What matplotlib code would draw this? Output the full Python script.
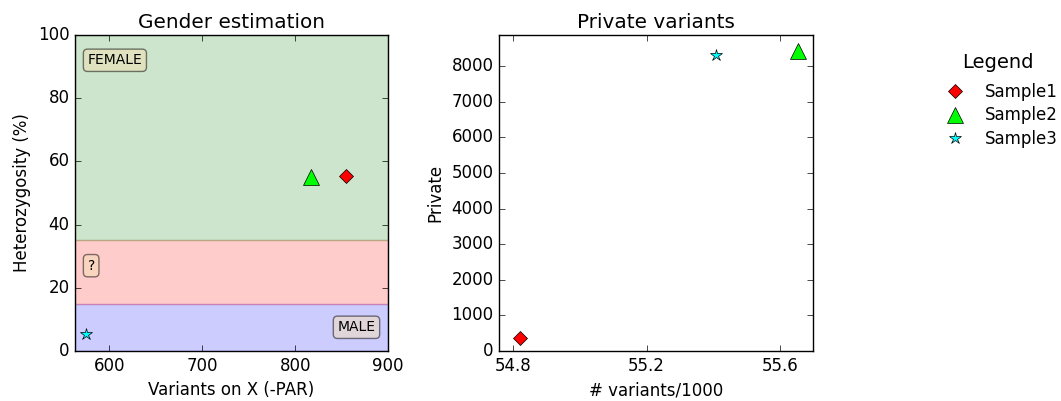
import matplotlib
matplotlib.use("Agg")
import matplotlib.pyplot as plt

plt.style.use("classic")

# Sample data
samples = ["Sample1", "Sample2", "Sample3"]
markers = ["D", "^", "*"]
colors = ["red", "lime", "cyan"]
marker_sizes = [7, 11.5, 9]

chrx_variants = [855, 817, 575]
heterozygosity = [55.4, 55.1, 5.5]

total_variants_k = [54.82, 55.655, 55.408]
private_variants = [375, 8437, 8310]

# Gender bands (heterozygosity %)
MALE_MAX = 15
UNKNOWN_MAX = 35

fig = plt.figure(figsize=(10.61, 4.01), dpi=100, facecolor="white")
ax1 = fig.add_axes([0.0707, 0.1247, 0.295, 0.788])
ax2 = fig.add_axes([0.4703, 0.1247, 0.296, 0.788])

# Left: gender estimation
ax1.axhspan(0, MALE_MAX, color="blue", alpha=0.2)
ax1.axhspan(MALE_MAX, UNKNOWN_MAX, color="red", alpha=0.2)
ax1.axhspan(UNKNOWN_MAX, 100, color="green", alpha=0.2)

box = dict(boxstyle="round", facecolor="wheat", alpha=0.5)
ax1.text(0.04, 0.92, "FEMALE", transform=ax1.transAxes, fontsize=10,
         va="center", ha="left", bbox=box)
ax1.text(0.04, 0.27, "?", transform=ax1.transAxes, fontsize=10,
         va="center", ha="left", bbox=box)
ax1.text(0.96, 0.075, "MALE", transform=ax1.transAxes, fontsize=10,
         va="center", ha="right", bbox=box)

for i, name in enumerate(samples):
    ax1.plot(chrx_variants[i], heterozygosity[i], markers[i], color=colors[i],
             markersize=marker_sizes[i], label=name)

ax1.set_xlim(563, 900)
ax1.set_ylim(0, 100)
ax1.set_xticks([600, 700, 800, 900])
ax1.set_title("Gender estimation")
ax1.set_xlabel("Variants on X (-PAR)")
ax1.set_ylabel("Heterozygosity (%)")

# Right: private variants
for i, name in enumerate(samples):
    ax2.plot(total_variants_k[i], private_variants[i], markers[i], color=colors[i],
             markersize=marker_sizes[i], label=name)

ax2.set_xlim(54.757, 55.7)
ax2.set_ylim(0, 8873)
ax2.set_xticks([54.8, 55.2, 55.6])
ax2.set_title("Private variants")
ax2.set_xlabel("# variants/1000")
ax2.set_ylabel("Private")

handles, labels = ax2.get_legend_handles_labels()
leg = fig.legend(handles, labels, loc="upper left", bbox_to_anchor=(0.866, 0.915),
                 frameon=False, numpoints=1, title="Legend", fontsize=12,
                 borderpad=0.65, labelspacing=0.35)
leg.get_title().set_fontsize(14)
# a bit more room between the title and the entries
leg._legend_box.sep = 0.35 * 12 + 3.2

fig.savefig("out.png", dpi=100, facecolor="white")
